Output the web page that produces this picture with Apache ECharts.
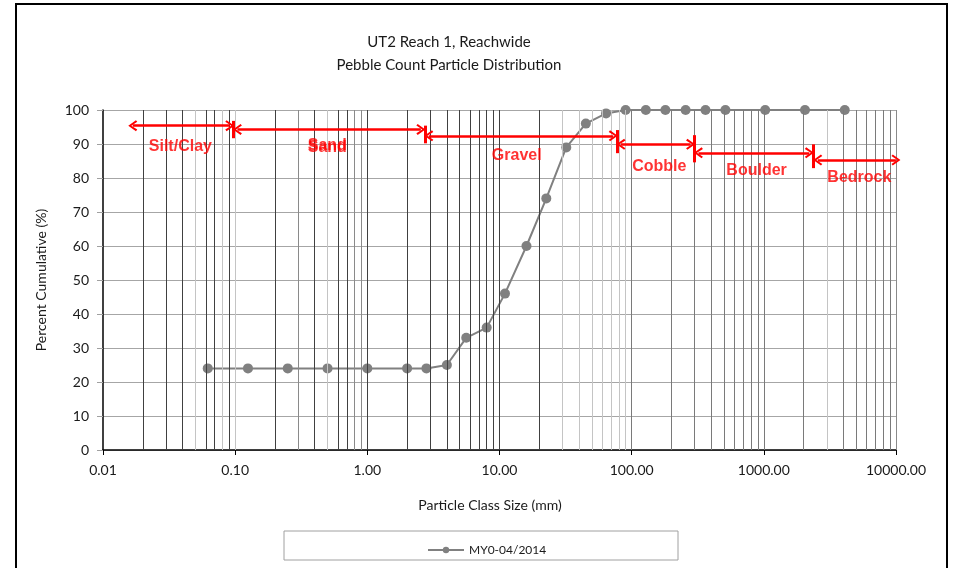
<!DOCTYPE html>
<html><head><meta charset="utf-8">
<script src="https://cdn.jsdelivr.net/npm/echarts@6/dist/echarts.min.js"></script>
<style>html,body{margin:0;padding:0;background:#fff}#c{width:957px;height:568px}</style>
</head><body><div id="c"></div>
<script>
// ---- data ----
const sizes = [0.062,0.125,0.25,0.5,1,2,2.8,4,5.6,8,11,16,22.6,32,45,64,90,128,180,256,362,512,1024,2048,4096];
const percents = [24,24,24,24,24,24,24,25,33,36,46,60,74,89,96,99,100,100,100,100,100,100,100,100,100];
const seriesName = 'MY0-04/2014';
const titleLines = ['UT2 Reach 1, Reachwide','Pebble Count Particle Distribution'];
const xTickLabels = ['0.01','0.10','1.00','10.00','100.00','1000.00','10000.00'];
const bandNames = ['Silt/Clay','Sand','Gravel','Cobble','Boulder','Bedrock'];
const bandArrowStart = [0.0168, 0.104, 2.92, 83.0, 320, 2560];
const bandArrowEnd = [0.091, 2.54, 72.5, 279, 2210, 9990];
const bandArrowY = [95.4, 94.3, 92.4, 89.9, 87.4, 85.3];
const bandLabelX = [0.0385, 0.498, 13.5, 162, 881, 5280];
const bandLabelY = [89.2, 89.4, 86.5, 83.5, 82.1, 80.0];
const dividerX = [0.097, 2.72, 77.6, 298.5, 2366];
const dividerTop = [96.8, 95.4, 94.1, 92.6, 89.9];
const dividerBottom = [91.7, 90.2, 87.3, 84.6, 82.9];

// ---- vertical grid lines (log axis structure) ----
const lightSet = {'0.05':1,'0.08':1,'0.1':1,'0.5':1,'30':1,'40':1,'50':1,'60':1,'70':1,'80':1,'90':1,'3000':1};
const midSet = {'0.3':1,'0.8':1,'0.9':1};
const gridLines = [];
for (let e = -2; e <= 3; e++) {
  for (let m = 1; m <= 9; m++) {
    if (e === -2 && m === 1) continue;
    const v = +(m * Math.pow(10, e)).toPrecision(6);
    const key = String(v);
    let color = '#404040';
    if (e >= 2) color = '#7a7a7a';
    if (midSet[key]) color = '#8a8a8a';
    if (lightSet[key]) color = '#c4c4c4';
    gridLines.push({xAxis: v, lineStyle: {color: color, width: 1, type: 'solid'}});
  }
}
gridLines.push({xAxis: 10000, lineStyle: {color: '#8a8a8a', width: 1, type: 'solid'}});

const chevron = 'path://M5,0 L10,8 L8.6,9.4 L5,3.2 L1.4,9.4 L0,8 Z';
const annot = [];
for (let i = 0; i < bandNames.length; i++) {
  annot.push([
    {coord: [bandArrowStart[i], bandArrowY[i]], symbol: chevron, symbolSize: [11, 9]},
    {coord: [bandArrowEnd[i], bandArrowY[i]], symbol: chevron, symbolSize: [11, 9]}
  ]);
}
for (let i = 0; i < dividerX.length; i++) {
  annot.push([
    {coord: [dividerX[i], dividerTop[i]], symbol: 'none', lineStyle: {width: 3}},
    {coord: [dividerX[i], dividerBottom[i]], symbol: 'none', lineStyle: {width: 3}}
  ]);
}
const labelData = bandNames.map((n, i) => ({name: n, value: [bandLabelX[i], bandLabelY[i]]}));

const FONT = 'Lato, "Open Sans", sans-serif';
const LFONT = '"Liberation Sans", Arial, sans-serif';
const chart = echarts.init(document.getElementById('c'), null, {renderer: 'canvas'});
chart.setOption({
  animation: false,
  textStyle: {fontFamily: FONT},
  grid: {left: 103, right: 61, top: 110, bottom: 118, containLabel: false},
  graphic: [
    {type: 'rect', shape: {x: 16, y: 4, width: 931, height: 600}, style: {fill: 'none', stroke: '#000', lineWidth: 2}, z: 0, silent: true},
    {type: 'text', x: 449, y: 42, style: {text: titleLines[0], font: '15px ' + FONT, fill: '#1a1a1a', textAlign: 'center', textVerticalAlign: 'middle'}},
    {type: 'text', x: 449, y: 65, style: {text: titleLines[1], font: '15px ' + FONT, fill: '#1a1a1a', textAlign: 'center', textVerticalAlign: 'middle'}},
    {type: 'text', x: 490, y: 505, style: {text: 'Particle Class Size (mm)', font: '14px ' + FONT, fill: '#1a1a1a', textAlign: 'center', textVerticalAlign: 'middle'}},
    {type: 'rect', shape: {x: 284, y: 531, width: 394, height: 29}, style: {fill: 'none', stroke: '#a0a0a0', lineWidth: 1}, silent: true}
  ],
  legend: {
    data: [seriesName], left: 422, top: 539, itemWidth: 36, itemHeight: 8, itemGap: 5,
    textStyle: {fontSize: 12, color: '#1a1a1a', fontFamily: FONT}
  },
  xAxis: {
    type: 'log', logBase: 10, min: 0.01, max: 10000,
    axisLine: {show: true, onZero: false, lineStyle: {color: '#000', width: 1.5}},
    axisTick: {show: true, length: 5, inside: false, lineStyle: {color: '#000'}},
    axisLabel: {fontSize: 14, color: '#1a1a1a', margin: 13, fontFamily: FONT,
      formatter: function (v) { const i = Math.round(Math.log10(v)) + 2; return xTickLabels[i] !== undefined ? xTickLabels[i] : v.toFixed(2); }},
    splitLine: {show: false}
  },
  yAxis: {
    type: 'value', min: 0, max: 100, interval: 10,
    name: 'Percent Cumulative (%)', nameLocation: 'middle', nameGap: 55, nameRotate: 90,
    nameTextStyle: {fontSize: 14, color: '#1a1a1a', fontFamily: FONT},
    axisLine: {show: true, lineStyle: {color: '#000', width: 1.5}},
    axisTick: {show: true, length: 6, lineStyle: {color: '#a0a0a0'}},
    axisLabel: {fontSize: 14, color: '#1a1a1a', margin: 14, fontFamily: FONT},
    splitLine: {show: true, lineStyle: {color: '#a6a6a6', width: 1}}
  },
  series: [
    {
      type: 'line', name: '_grid', data: [], z: 1, silent: true, legendHoverLink: false,
      markLine: {silent: true, symbol: 'none', label: {show: false}, animation: false, data: gridLines}
    },
    {
      type: 'line', name: seriesName, z: 3,
      data: sizes.map((s, i) => [s, percents[i]]),
      symbol: 'circle', symbolSize: 10, showSymbol: true,
      itemStyle: {color: '#808080'},
      lineStyle: {color: '#808080', width: 2}
    },
    {
      type: 'line', name: '_annot', data: [], z: 5, silent: true, clip: false,
      markLine: {silent: true, label: {show: false}, animation: false,
        lineStyle: {color: '#ff0000', width: 2.5, type: 'solid'},
        itemStyle: {color: '#ff0000'},
        data: annot}
    },
    {
      type: 'scatter', name: '_labels', z: 6, silent: true, symbolSize: 0, clip: false,
      data: labelData,
      label: {show: true, position: 'inside', formatter: '{b}', color: '#ff0000', fontWeight: 'bold', fontSize: 16, fontFamily: LFONT}
    },
    {
      type: 'scatter', name: '_labels2', z: 6, silent: true, symbolSize: 0, clip: false,
      data: [labelData[1]],
      label: {show: true, position: 'inside', offset: [0, 2], formatter: '{b}', color: '#ff0000', fontWeight: 'bold', fontSize: 16, fontFamily: LFONT}
    }
  ]
});
</script>
</body></html>
